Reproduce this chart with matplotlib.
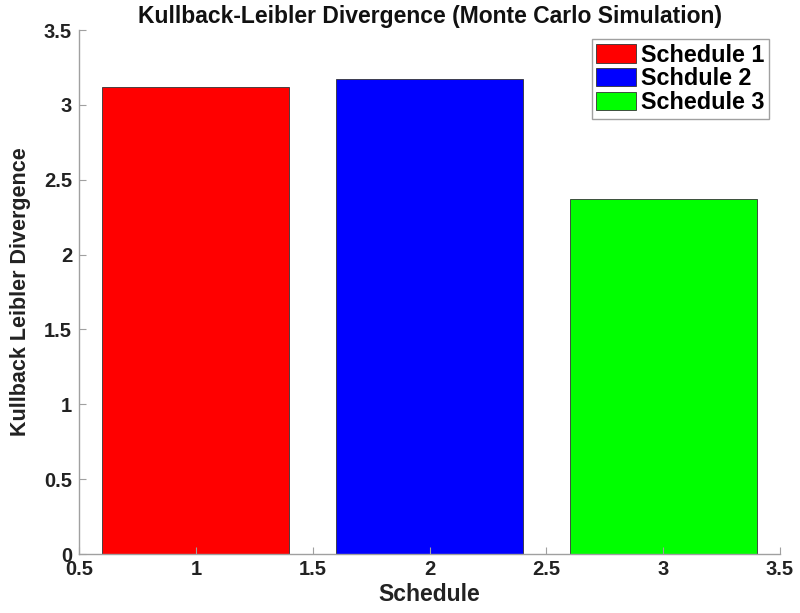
import matplotlib as mpl
mpl.use('Agg')

import matplotlib.pyplot as plt

schedules = [1, 2, 3]
kl_values = [3.12, 3.175, 2.37]
labels = ['Schedule 1', 'Schdule 2', 'Schedule 3']
colors = ['#ff0000', '#0000ff', '#00ff00']
xticks = [0.5, 1, 1.5, 2, 2.5, 3, 3.5]
yticks = [0, 0.5, 1, 1.5, 2, 2.5, 3, 3.5]

plt.rcParams['font.family'] = ['Liberation Sans', 'DejaVu Sans']
plt.rcParams['font.weight'] = 'bold'

fig = plt.figure(figsize=(8, 6.13), dpi=100)
ax = fig.add_axes([0.09875, 0.0962, 0.87625, 0.8548])

for x, v, c, lab in zip(schedules, kl_values, colors, labels):
    ax.bar(x, v, width=0.8, color=c, edgecolor='#333333', linewidth=0.6, label=lab)

ax.set_xlim(0.5, 3.5)
ax.set_ylim(0, 3.5)
ax.set_xticks(xticks)
ax.set_xticklabels([f'{t:g}' for t in xticks])
ax.set_yticks(yticks)
ax.set_yticklabels([f'{t:g}' for t in yticks])

for s in ['top', 'right']:
    ax.spines[s].set_visible(False)
for s in ['left', 'bottom']:
    ax.spines[s].set_color('#a0a0a0')
    ax.spines[s].set_linewidth(1.0)
ax.tick_params(direction='in', length=5, color='#a0a0a0', labelsize=14.5)
ax.tick_params(axis='x', pad=4.5)
ax.tick_params(axis='y', pad=5)
for t in ax.get_xticklabels() + ax.get_yticklabels():
    t.set_fontweight('bold')
    t.set_color('#222222')

ax.set_title('Kullback-Leibler Divergence (Monte Carlo Simulation)',
             fontsize=16.5, fontweight='bold', pad=5, color='#111111')
ax.set_xlabel('Schedule', fontsize=16.5, fontweight='bold', labelpad=3, color='#222222')
ax.set_ylabel('Kullback Leibler Divergence', fontsize=15.5, fontweight='bold',
              labelpad=9, color='#222222')

leg = ax.legend(loc='upper right', bbox_to_anchor=(0.984, 0.983), fontsize=16.8,
                fancybox=False, framealpha=1, edgecolor='#a0a0a0',
                handlelength=1.7, handleheight=0.82, handletextpad=0.2,
                labelspacing=0.03, borderpad=0.2, borderaxespad=0.0)
leg.get_frame().set_linewidth(1.0)
for t in leg.get_texts():
    t.set_fontweight('bold')

fig.savefig('out.png', dpi=100)
